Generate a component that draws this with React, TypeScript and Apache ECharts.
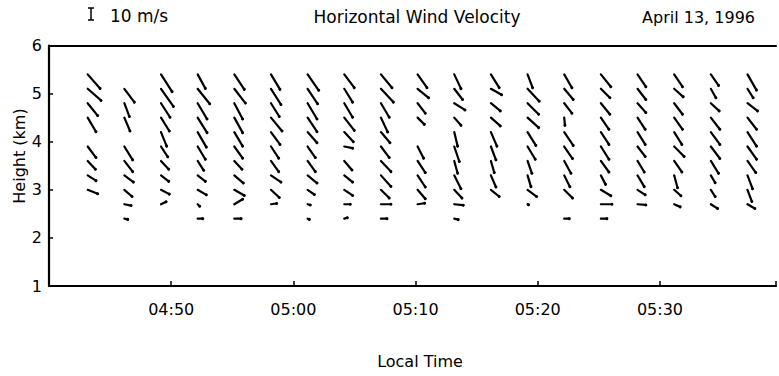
import React, { useEffect, useRef } from "react";
import * as echarts from "echarts";

// Observation times (local time), one profile every 3 minutes
const times = [
  "04:43:10", "04:46:10", "04:49:10", "04:52:10", "04:55:10", "04:58:10", "05:01:10",
  "05:04:10", "05:07:10", "05:10:10", "05:13:10", "05:16:10", "05:19:10", "05:22:10",
  "05:25:10", "05:28:10", "05:31:10", "05:34:10", "05:37:10",
];

// Range gates (km)
const heights = [5.4, 5.1, 4.8, 4.5, 4.2, 3.9, 3.6, 3.3, 3.0, 2.7, 2.4];

// Eastward component u (m/s), one row per time, one entry per height
const uWind: (number | null)[][] = [
  [10.3, 11.1, 8.3, 6.9, null, 6.9, 6.4, 6.9, 8.3, null, null],
  [null, 8.3, 4.2, 4.7, null, 6.9, 6.9, 7.5, 6.4, 5.6, 2.8],
  [9.2, 10.3, 7.5, 6.9, 4.7, 5.6, 6.4, 6.4, 6.9, 4.2, null],
  [6.4, 10.0, 7.8, 7.8, 7.2, 6.4, 5.0, 6.4, 7.2, 1.7, 4.2],
  [8.3, 9.2, 6.9, 6.9, 6.9, 6.9, 6.4, 7.5, 8.3, 6.9, 5.6],
  [7.5, 8.3, 6.9, 9.2, 7.5, 6.4, 6.4, 8.3, 6.9, 4.7, null],
  [9.2, 8.3, 7.8, 7.8, 7.8, 6.4, 6.4, 7.8, 5.6, 2.2, 1.4],
  [8.3, 6.9, 6.9, 8.3, 7.5, 6.9, 6.4, 6.9, 6.9, 5.0, 2.5],
  [9.2, 10.3, 6.9, 5.6, 7.5, 6.9, 8.3, 8.3, 6.9, 8.3, 5.0],
  [7.8, 9.2, 6.4, 5.6, null, 5.0, 6.4, 6.4, 6.4, 5.8, null],
  [5.6, 6.9, 8.9, 5.6, 2.8, 4.2, 2.8, 5.6, 6.4, 7.5, 3.3],
  [6.9, 8.9, 7.8, 7.8, 5.0, 4.2, 2.8, 4.2, 6.9, null, null],
  [4.2, 9.7, 9.2, 9.2, 6.9, 6.4, 3.6, 2.8, 7.5, 0.8, null],
  [6.4, 7.5, 6.4, 0.6, 7.5, 6.9, 5.6, 4.7, 6.9, null, 4.2],
  [8.3, 7.5, 7.5, 6.7, 6.7, 6.7, 6.7, 3.9, 8.3, 9.2, 5.0],
  [6.9, 6.9, 6.9, 6.4, 6.4, 6.4, 5.6, 5.6, 6.4, 6.9, null],
  [6.9, 7.5, 6.9, 6.9, 6.4, 8.3, 6.4, 2.8, 5.6, 5.0, null],
  [6.4, 4.2, 6.9, 7.5, 7.5, 7.5, 6.4, 3.6, 3.6, 5.6, null],
  [7.5, 4.7, 8.3, 7.5, 7.5, 7.5, 6.9, 4.2, 3.6, 6.1, null],
];

// Northward component v (m/s)
const vWind: (number | null)[][] = [
  [-11.7, -9.7, -10.3, -11.7, null, -9.2, -6.9, -4.4, -3.3, null, null],
  [null, -11.1, -11.1, -11.1, null, -11.1, -8.9, -5.6, -5.6, -1.1, -0.6],
  [-14.4, -14.7, -11.7, -11.1, -11.7, -8.6, -6.9, -5.0, -3.6, 2.0, null],
  [-11.7, -12.5, -13.1, -12.5, -12.5, -10.6, -7.8, -5.0, -4.2, -1.7, 0],
  [-12.5, -11.9, -13.1, -12.5, -11.7, -9.7, -6.9, -6.4, -4.7, 4.2, 0],
  [-12.5, -13.1, -11.1, -11.1, -10.3, -9.7, -8.9, -5.6, -6.4, 0.6, null],
  [-13.3, -12.5, -13.1, -11.7, -8.9, -9.2, -8.9, -6.4, -3.9, -0.6, -0.6],
  [-11.1, -11.1, -11.7, -10.6, -8.1, -1.4, -7.5, -5.6, -4.7, 0, 0.8],
  [-11.1, -11.1, -11.7, -11.9, -8.9, -9.2, -8.9, -9.2, -6.9, 0, 0],
  [-11.1, -7.5, -8.3, -5.6, null, -9.7, -9.7, -9.7, -7.5, 0.8, null],
  [-11.9, -8.9, -5.6, -6.4, -11.7, -12.5, -10.3, -11.1, -6.9, -0.8, -0.8],
  [-11.1, -5.0, -6.4, -6.9, -11.7, -11.1, -9.7, -9.7, -5.6, null, null],
  [-11.1, -10.3, -9.2, -8.3, -11.1, -10.6, -10.3, -9.4, -5.6, -0.4, null],
  [-11.1, -8.9, -8.3, -6.4, -11.1, -10.0, -10.3, -9.4, -6.9, null, 0],
  [-10.3, -7.5, -9.2, -9.7, -10.3, -10.6, -9.2, -7.5, -5.0, 0, 0],
  [-10.3, -8.9, -7.8, -9.7, -10.3, -8.3, -9.2, -9.4, -4.2, -0.6, null],
  [-10.3, -6.7, -9.2, -9.7, -10.3, -8.3, -9.2, -10.3, -5.0, -2.2, null],
  [-9.2, -7.5, -6.4, -9.7, -10.3, -10.0, -10.3, -6.1, -5.6, -3.6, null],
  [-13.1, -7.5, -6.4, -9.7, -11.7, -10.6, -9.7, -11.1, -9.7, -3.6, null],
];

const xTickLabels = ["04:50", "05:00", "05:10", "05:20", "05:30"];
const scaleSpeed = 10; // m/s, reference bar

const PX_PER_MS = 1.2; // stick length in px per m/s
const FONT = "'DejaVu Sans', 'Liberation Sans', sans-serif";

function toMin(s: string): number {
  const [h, m, sec] = s.split(":").map(Number);
  return h * 60 + m + (sec || 0) / 60;
}
function fmt(v: number): string {
  const h = Math.floor(v / 60);
  const m = Math.round(v - h * 60);
  return String(h).padStart(2, "0") + ":" + String(m).padStart(2, "0");
}

export default function App() {
  const ref = useRef<HTMLDivElement>(null);
  useEffect(() => {
    if (!ref.current) return;
    const chart = echarts.init(ref.current, null, { renderer: "svg" });

    const data: number[][] = [];
    times.forEach((t, i) => {
      heights.forEach((h, j) => {
        const u = uWind[i][j];
        const v = vWind[i][j];
        if (u == null || v == null) return;
        data.push([toMin(t), h, u, v]);
      });
    });

    const barX = 91;
    const barTop = 8;
    const barLen = scaleSpeed * PX_PER_MS;

    chart.setOption({
      animation: false,
      backgroundColor: "#fff",
      grid: { left: 49, right: 0, top: 45.5, bottom: 90, containLabel: false },
      xAxis: [
        {
          type: "value",
          min: 280,
          max: 339.5,
          interval: 10,
          position: "bottom",
          axisLine: { show: true, onZero: false, lineStyle: { color: "#000", width: 2.2 } },
          axisTick: { show: true, inside: true, length: 5, lineStyle: { color: "#000", width: 1.5 } },
          axisLabel: {
            margin: 15,
            color: "#000",
            fontSize: 16,
            fontFamily: FONT,
            formatter: (v: number) => {
              const s = fmt(v);
              return xTickLabels.includes(s) && Math.abs(v % 10) < 1e-6 ? s : "";
            },
          },
          splitLine: { show: false },
        },
        {
          type: "value",
          min: 280,
          max: 339.5,
          position: "top",
          axisLine: { show: true, onZero: false, lineStyle: { color: "#000", width: 2.2 } },
          axisTick: { show: false },
          axisLabel: { show: false },
          splitLine: { show: false },
        },
      ],
      yAxis: {
        type: "value",
        min: 1,
        max: 6,
        interval: 1,
        axisLine: { show: true, onZero: false, lineStyle: { color: "#000", width: 2.2 } },
        axisTick: { show: true, inside: true, length: 4, lineStyle: { color: "#000", width: 1.5 } },
        axisLabel: { margin: 7, color: "#000", fontSize: 16, fontFamily: FONT },
        splitLine: { show: false },
      },
      graphic: [
        {
          type: "line",
          shape: { x1: barX, y1: barTop, x2: barX, y2: barTop + barLen },
          style: { stroke: "#000", lineWidth: 1.5 },
        },
        {
          type: "line",
          shape: { x1: barX - 3, y1: barTop, x2: barX + 3, y2: barTop },
          style: { stroke: "#000", lineWidth: 1.5 },
        },
        {
          type: "line",
          shape: { x1: barX - 3, y1: barTop + barLen, x2: barX + 3, y2: barTop + barLen },
          style: { stroke: "#000", lineWidth: 1.5 },
        },
        {
          type: "text",
          x: 110,
          y: 16,
          style: { text: scaleSpeed + " m/s", fill: "#000", font: `17px ${FONT}`, verticalAlign: "middle" },
        },
        {
          type: "text",
          x: 417,
          y: 17,
          style: { text: "Horizontal Wind Velocity", fill: "#000", font: `17px ${FONT}`, align: "center", verticalAlign: "middle" },
        },
        {
          type: "text",
          x: 755,
          y: 17,
          style: { text: "April 13, 1996", fill: "#000", font: `16px ${FONT}`, align: "right", verticalAlign: "middle" },
        },
        {
          type: "text",
          x: 420,
          y: 361,
          style: { text: "Local Time", fill: "#000", font: `16px ${FONT}`, align: "center", verticalAlign: "middle" },
        },
        {
          type: "text",
          x: 19,
          y: 156,
          rotation: Math.PI / 2,
          style: { text: "Height (km)", fill: "#000", font: `16px ${FONT}`, align: "center", verticalAlign: "middle" },
        },
      ],
      series: [
        {
          type: "custom",
          xAxisIndex: 0,
          yAxisIndex: 0,
          encode: { x: 0, y: 1 },
          data,
          clip: false,
          renderItem: (params: any, api: any) => {
            const p = api.coord([api.value(0), api.value(1)]);
            const u = api.value(2) as number;
            const v = api.value(3) as number;
            const ex = p[0] + u * PX_PER_MS;
            const ey = p[1] - v * PX_PER_MS;
            return {
              type: "group",
              children: [
                {
                  type: "line",
                  shape: { x1: p[0], y1: p[1], x2: ex, y2: ey },
                  style: { stroke: "#000", lineWidth: 2.2, lineCap: "round" },
                },
                {
                  type: "circle",
                  shape: { cx: ex, cy: ey, r: 1.5 },
                  style: { fill: "#000" },
                },
              ],
            };
          },
        },
      ],
    });
    return () => chart.dispose();
  }, []);
  return (
    <div
      ref={ref}
      style={{ position: "fixed", left: 0, top: 0, width: 779, height: 376, background: "#fff" }}
    />
  );
}
